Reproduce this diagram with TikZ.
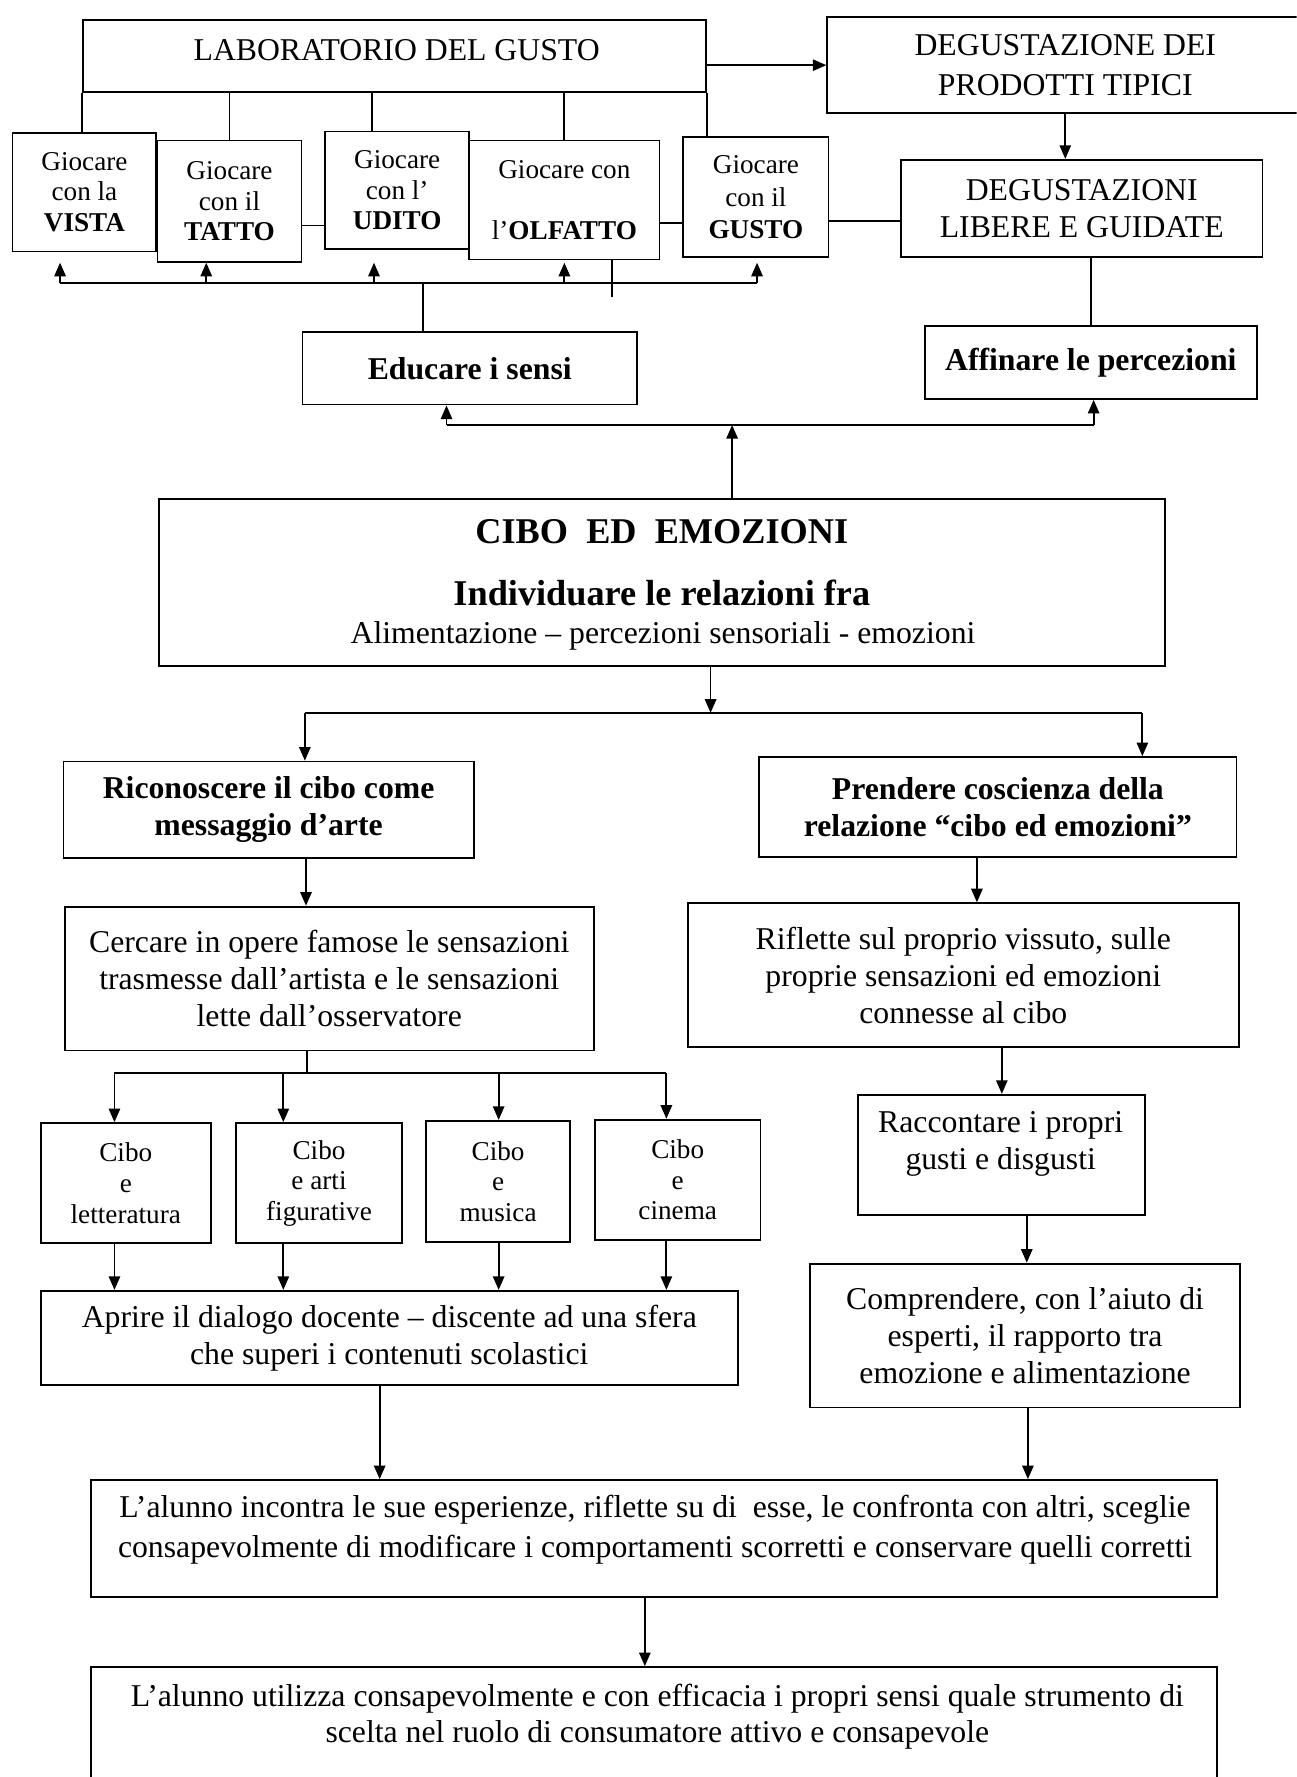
\documentclass[tikz,border=0pt]{standalone}
\usepackage{fontspec}
\setmainfont{Liberation Serif}
\usetikzlibrary{arrows.meta}
\newcommand\mainsz{\fontsize{14}{16.25}\selectfont}
\newcommand\smallsz{\fontsize{12}{13.5}\selectfont}
% [options] name x1 y1 x2 y2 text  -- a box given by two corners
\newcommand\flowbox[7][]{%
  \node[box,#1,minimum width={(#5-#3)*0.5pt},minimum height={(#6-#4)*0.5pt}]
    (#2) at ({(#3+#5)/2},{(#4+#6)/2}) {#7};}
\begin{document}
\begin{tikzpicture}[x=0.5pt,y=-0.5pt,
  box/.style={draw,line width=0.8pt,inner sep=0pt,align=center,font=\mainsz},
  lbl/.style={inner sep=0pt,align=center,font=\mainsz},
  play/.style={font=\smallsz},
  strong/.style={font=\mainsz\bfseries},
  link/.style={line width=0.8pt},
  arr/.style={link,-{Triangle[length=6pt,width=5pt]}}]
\useasboundingbox (0,0) rectangle (1144,1568);
\fill[white] (0,0) rectangle (1144,1568);
\clip (0,0) rectangle (1144,1568);

% ---- laboratorio and tasting row
\flowbox{lab}{73}{18}{623}{81}{}
\node[lbl] (labtxt) at (350,44) {LABORATORIO DEL GUSTO};
\flowbox[font=\fontsize{14}{17.25}\selectfont]{deg}{730}{15}{1150}{100}{DEGUSTAZIONE DEI\\PRODOTTI TIPICI}
\flowbox{libere}{795}{141}{1114}{227}{DEGUSTAZIONI\\LIBERE E GUIDATE}

\flowbox[play]{vista}{11}{117}{138}{222}{Giocare\\con la\\\textbf{VISTA}}
\flowbox[play]{tatto}{139}{124}{266}{231}{Giocare\\con il\\\textbf{TATTO}}
\flowbox[play]{udito}{287}{116}{414}{220}{Giocare\\con l’\\\textbf{UDITO}}
\flowbox[play]{olfatto}{414}{124}{582}{229}{Giocare con\\\mbox{}\\l’\textbf{OLFATTO}}
\flowbox[font=\fontsize{12}{14.5}\selectfont]{gusto}{603}{121}{731}{227}{Giocare\\con il\\\textbf{GUSTO}}

\flowbox[strong]{educare}{267}{293}{562}{357}{Educare i sensi}
\flowbox[strong]{affinare}{816}{288}{1109}{352}{Affinare le percezioni}

% ---- central box
\flowbox{cibo}{140}{440}{1028}{588}{}
\node[lbl,anchor=base,font=\fontsize{16}{18}\selectfont\bfseries] (cibot) at (584,480) {CIBO~~ED~~EMOZIONI};
\node[lbl,anchor=base,font=\fontsize{16}{18}\selectfont\bfseries] (cibos) at (584,534) {Individuare le relazioni fra};
\node[lbl,anchor=base] (cibol) at (585,568) {Alimentazione – percezioni sensoriali - emozioni};

% ---- left branch
\flowbox[strong]{ricon}{56}{672}{418}{757}{Riconoscere il cibo come\\messaggio d’arte}
\flowbox{cercare}{57}{800}{524}{927}{Cercare in opere famose le sensazioni\\trasmesse dall’artista e le sensazioni\\lette dall’osservatore}
\flowbox[play]{cibo1}{36}{991}{186}{1097}{Cibo\\e\\letteratura}
\flowbox[play]{cibo2}{208}{991}{355}{1097}{Cibo\\e arti\\figurative}
\flowbox[play]{cibo3}{376}{989}{503}{1096}{Cibo\\e\\musica}
\flowbox[play]{cibo4}{525}{988}{671}{1094}{Cibo\\e\\cinema}
\flowbox{aprire}{36}{1139}{651}{1222}{Aprire il dialogo docente – discente ad una sfera\\che superi i contenuti scolastici}

% ---- right branch
\flowbox[strong]{prendere}{670}{668}{1091}{756}{Prendere coscienza della\\relazione “cibo ed emozioni”}
\flowbox{riflette}{607}{797}{1093}{924}{Riflette sul proprio vissuto, sulle\\proprie sensazioni ed emozioni\\connesse al cibo}
\flowbox{racconta}{757}{966}{1010}{1072}{}
\node[lbl] (raccontat) at (883,1009) {Raccontare i propri\\gusti e disgusti};
\flowbox{comprende}{715}{1115}{1094}{1242}{Comprendere, con l’aiuto di\\esperti, il rapporto tra\\emozione e alimentazione}

% ---- closing boxes
\flowbox{alunno}{80}{1306}{1074}{1409}{}
\node[lbl,font=\fontsize{14}{17.5}\selectfont] (alunnot) at (578,1350) {L’alunno incontra le sue esperienze, riflette su di\ \ esse, le confronta con altri, sceglie\\consapevolmente di modificare i comportamenti scorretti e conservare quelli corretti};
\flowbox{finale}{80}{1471}{1074}{1600}{}
\node[lbl,font=\fontsize{14}{16}\selectfont] (finalet) at (580,1515) {L’alunno utilizza consapevolmente e con efficacia i propri sensi quale strumento di\\scelta nel ruolo di consumatore attivo e consapevole};

% ---- connectors of the top row
\draw[link] (lab.south west) -- (lab.south west |- vista.north);
\draw[link] (tatto.north) -- (tatto.north |- lab.south);
\draw[link] ([xshift=-11pt]udito.north) -- ([xshift=-11pt]udito.north |- lab.south);
\draw[link] (olfatto.north) -- (olfatto.north |- lab.south);
\draw[link] (lab.south east) -- (lab.south east |- gusto.north);
\draw[arr] (lab.east |- deg.west) -- (deg.west);
\draw[arr] (deg.south) -- (deg.south |- libere.north);
\draw[link] ([yshift=-10.75pt]tatto.east) -- ([yshift=-10.75pt]tatto.east -| udito.west);
\draw[link] ([yshift=-10.25pt]olfatto.east) -- ([yshift=-10.25pt]olfatto.east -| gusto.west);
\draw[link] ([yshift=-10.5pt]gusto.east) -- ([yshift=-10.5pt]gusto.east -| libere.west);

% bus under the five senses
\coordinate (b1) at (53,250);
\coordinate (b2) at (182,250);
\coordinate (b3) at (330,250);
\coordinate (b4) at (498,250);
\coordinate (b5) at (668,250);
\coordinate (bs) at (373,250);
\coordinate (tick) at (540,229);
\draw[link] (b1) -- (b5);
\foreach \b in {b1,b2,b3,b4,b5} \draw[arr] (\b) -- (\b |- tatto.south);
\draw[link] (bs) -- (bs |- educare.north);
\draw[link] (tick) -- ++(0,33);
\draw[link] (libere.south -| affinare.north) -- (affinare.north);

% from the central box upwards
\coordinate (c1) at (394,375);
\coordinate (c2) at (965,375);
\draw[link] (c1) -- (c2);
\draw[arr] (c1) -- (c1 |- educare.south);
\draw[arr] (c2) -- (c2 |- affinare.south);
\draw[arr] ([xshift=31pt]cibo.north) -- ([xshift=31pt]cibo.north |- c1);

% from the central box downwards
\coordinate (d1) at (269,629);
\coordinate (d2) at (1008,629);
\draw[arr] ([xshift=21.5pt]cibo.south) -- ([xshift=21.5pt]cibo.south |- d1);
\draw[link] (d1) -- (d2);
\draw[arr] (d1) -- (d1 |- ricon.north);
\draw[arr] (d2) -- (d2 |- prendere.north);

% left branch
\draw[arr] ([xshift=16.5pt]ricon.south) -- ([xshift=16.5pt]ricon.south |- cercare.north);
\coordinate (e1) at (101,947);
\coordinate (e2) at (250,947);
\coordinate (e3) at (440,947);
\coordinate (e4) at (588,947);
\draw[link] ([xshift=-9.75pt]cercare.south) -- ([xshift=-9.75pt]cercare.south |- e1);
\draw[link] (e1) -- (e4);
\draw[arr] (e1) -- (e1 |- cibo1.north);
\draw[arr] (e2) -- (e2 |- cibo2.north);
\draw[arr] (e3) -- (e3 |- cibo3.north);
\draw[arr] (e4) -- (e4 |- cibo4.north);
\draw[arr] (e1 |- cibo1.south) -- (e1 |- aprire.north);
\draw[arr] (e2 |- cibo2.south) -- (e2 |- aprire.north);
\draw[arr] (e3 |- cibo3.south) -- (e3 |- aprire.north);
\draw[arr] (e4 |- cibo4.south) -- (e4 |- aprire.north);
\draw[arr] ([xshift=-4.25pt]aprire.south) -- ([xshift=-4.25pt]aprire.south |- alunno.north);

% right branch
\draw[arr] ([xshift=-9.25pt]prendere.south) -- ([xshift=-9.25pt]prendere.south |- riflette.north);
\draw[arr] ([xshift=17pt]riflette.south) -- ([xshift=17pt]riflette.south |- racconta.north);
\draw[arr] ([xshift=11.25pt]racconta.south) -- ([xshift=11.25pt]racconta.south |- comprende.north);
\draw[arr] ([xshift=1.25pt]comprende.south) -- ([xshift=1.25pt]comprende.south |- alunno.north);

% closing step
\draw[arr] ([xshift=-4pt]alunno.south) -- ([xshift=-4pt]alunno.south |- finale.north);
\end{tikzpicture}
\end{document}
